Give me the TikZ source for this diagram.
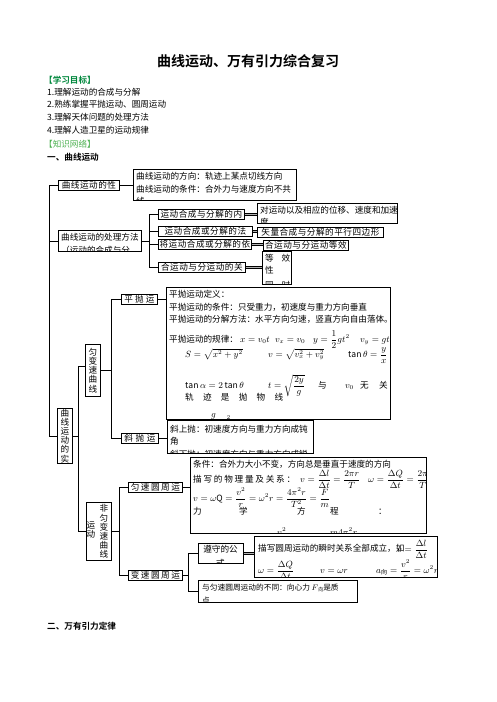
\documentclass[tikz,border=0pt]{standalone}
\usepackage{amsmath}
\usepackage{fontspec}
\setmainfont{Noto Sans CJK SC}[BoldFont={Noto Sans CJK SC Bold}]
\newfontfamily\spacedfont{Noto Sans CJK SC}[LetterSpace=6]
\usepackage{tikz}
\usetikzlibrary{calc}
\definecolor{goalgreen}{HTML}{00873C}
\definecolor{netgreen}{HTML}{4CB050}
\newcommand{\bx}{\fontsize{8.6}{12.5}\selectfont}
\newcommand{\vx}{\fontsize{8.6}{9.2}\selectfont}

\begin{document}
\begin{tikzpicture}[x=1pt,y=-1pt,font=\bx,
    box/.style={draw,line width=0.8pt,inner sep=0pt,anchor=north west},
    lbl/.style={box,font=\bx\spacedfont},
    txt/.style={anchor=base west,inner sep=0pt},
    link/.style={line width=0.8pt},
    dbl/.style={line width=0.6pt,double=gray!60,double distance=1.4pt}]
  \useasboundingbox (0,0) rectangle (496,702);

  % Heading and study goals.
  \node[font=\fontsize{14}{16}\selectfont\bfseries] (title) at (248,61) {曲线运动、万有引力综合复习};
  \node[txt,text=goalgreen,font=\bx\bfseries] (goal) at (44,83) {【学习目标】};
  \node[txt] (goal1) at (47,95) {1.理解运动的合成与分解};
  \node[txt] (goal2) at (47,107) {2.熟练掌握平抛运动、圆周运动};
  \node[txt] (goal3) at (47,120.5) {3.理解天体问题的处理方法};
  \node[txt] (goal4) at (47,133) {4.理解人造卫星的运动规律};
  \node[txt,text=netgreen] (net) at (44,147) {【知识网络】};
  \node[txt,font=\bx\bfseries] (sec1) at (47,160) {一、曲线运动};
  \node[txt,font=\bx\bfseries] (sec2) at (47,629) {二、万有引力定律};

  % First level of the map.
  \node[lbl,minimum width=61pt,minimum height=10pt] (prop) at (58,180) {曲线运动的性};
  \node[box,minimum width=83pt,minimum height=21pt] (proc) at (58,230) {};
  \begin{scope}
    \clip (proc.north west) rectangle (proc.south east);
    \node[txt] (proc-a) at (61,240) {曲线运动的处理方法};
    \node[txt] (proc-b) at (61,253) {（运动的合成与分};
  \end{scope}
  \node[box,minimum width=15pt,minimum height=55pt,font=\vx,align=center]
    (essence) at (57,408) {曲\\线\\运\\动\\的\\实};

  \node[box,minimum width=163pt,minimum height=31pt] (dir) at (133,169) {};
  \begin{scope}
    \clip (dir.north west) rectangle (dir.south east);
    \node[txt] (dir-a) at (136,179) {曲线运动的方向：轨迹上某点切线方向};
    \node[txt] (dir-b) at (136,192) {曲线运动的条件：合外力与速度方向不共};
    \node[txt] (dir-c) at (136,204.5) {线};
  \end{scope}

  % Composition and resolution of motion.
  \node[lbl,minimum width=86pt,minimum height=10pt] (content) at (158,209) {运动合成与分解的内};
  \node[lbl,minimum width=94pt,minimum height=10pt] (law) at (158,226) {运动合成或分解的法};
  \node[lbl,minimum width=93pt,minimum height=10pt] (basis) at (158,239) {将运动合成或分解的依};
  \node[lbl,minimum width=87pt,minimum height=10pt] (relation) at (158,262) {合运动与分运动的关};

  \node[box,minimum width=140pt,minimum height=20pt] (meaning) at (257,203) {};
  \begin{scope}
    \clip (meaning.north west) rectangle (meaning.south east);
    \node[txt] (meaning-a) at (260,213) {对运动以及相应的位移、速度和加速};
    \node[txt] (meaning-b) at (260,225.5) {度};
  \end{scope}
  \node[lbl,minimum width=126pt,minimum height=10pt] (rule) at (257,227) {矢量合成与分解的平行四边形};
  \node[lbl,minimum width=85pt,minimum height=10pt] (equiv) at (263,240) {合运动与分运动等效};
  \node[box,minimum width=29pt,minimum height=33pt] (trait) at (262,251) {};
  \begin{scope}
    \clip (trait.north west) rectangle (trait.south east);
    \node[txt] (trait-a) at (265,261) {\makebox[25pt][s]{等\hfill 效}};
    \node[txt] (trait-b) at (265,273) {性};
    \node[txt] (trait-c) at (265,288.5) {\makebox[25pt][s]{同\hfill 时}};
  \end{scope}

  % Uniformly accelerated curved motion.
  \node[box,minimum width=15pt,minimum height=52pt,font=\vx,align=center]
    (uvar) at (85,344) {匀\\变\\速\\曲\\线};
  \node[box,minimum width=36pt,minimum height=10pt] (flat) at (121,294) {\makebox[30pt][s]{平\hfill 抛\hfill 运}};
  \node[box,minimum width=37pt,minimum height=10pt] (oblique) at (121,432.5) {\makebox[31pt][s]{斜\hfill 抛\hfill 运}};

  \node[box,minimum width=224pt,minimum height=132pt] (flatinfo) at (166,287) {};
  \begin{scope}
    \clip (flatinfo.north west) rectangle (flatinfo.south east);
    \node[txt] (flat-a) at (169,297) {平抛运动定义：};
    \node[txt] (flat-b) at (169,310) {平抛运动的条件：只受重力，初速度与重力方向垂直};
    \node[txt] (flat-c) at (169,322) {平抛运动的分解方法：水平方向匀速，竖直方向自由落体。};
    \node[txt] (flat-d) at (169,342) {平抛运动的规律：};
    \node[txt] (flat-d1) at (240,342) {$x=v_0t$};
    \node[txt] (flat-d2) at (275,342) {$v_x=v_0$};
    \node[txt] (flat-d3) at (313,342) {$y=\dfrac{1}{2}gt^2$};
    \node[txt] (flat-d4) at (360,342) {$v_y=gt$};
    \node[txt] (flat-e1) at (185,357) {$S=\sqrt{x^2+y^2}$};
    \node[txt] (flat-e2) at (268,357) {$v=\sqrt{v_x^2+v_y^2}$};
    \node[txt] (flat-e3) at (348,357) {$\tan\theta=\dfrac{y}{x}$};
    \node[txt] (flat-f1) at (185,388) {$\tan\alpha=2\tan\theta$};
    \node[txt] (flat-f2) at (268,388) {$t=\sqrt{\dfrac{2y}{g}}$};
    \node[txt] (flat-f3) at (318,388) {与};
    \node[txt] (flat-f4) at (345,388) {$v_0$};
    \node[txt] (flat-f5) at (360,388) {无};
    \node[txt] (flat-f6) at (379,388) {关};
    \node[txt] (flat-g) at (185,400) {\makebox[98pt][s]{轨\hfill 迹\hfill 是\hfill 抛\hfill 物\hfill 线}};
    \node[txt] (flat-h) at (188,423) {$y=\dfrac{g}{2v_0^2}x^2$};
  \end{scope}

  \node[box,minimum width=146pt,minimum height=33pt] (obliqueinfo) at (167,420) {};
  \begin{scope}
    \clip (obliqueinfo.north west) rectangle (obliqueinfo.south east);
    \node[txt] (obl-a) at (170,432) {斜上抛：初速度方向与重力方向成钝};
    \node[txt] (obl-b) at (170,444.5) {角};
    \node[txt] (obl-c) at (170,457) {斜下抛：初速度方向与重力方向成锐};
  \end{scope}

  % Non-uniformly accelerated curved motion.
  \node[box,minimum width=25pt,minimum height=58pt] (nvar) at (86,502) {};
  \node[font=\vx,align=center,anchor=north,inner sep=0pt] (nvar-r) at (104,504.5) {非\\匀\\变\\速\\曲\\线};
  \node[font=\vx,align=center,anchor=north,inner sep=0pt] (nvar-l) at (91,521.5) {运\\动};
  \node[box,minimum width=54pt,minimum height=10pt] (ucirc) at (128,482) {\makebox[49pt][s]{匀\hfill 速\hfill 圆\hfill 周\hfill 运}};
  \node[box,minimum width=54pt,minimum height=10pt] (vcirc) at (128,570) {\makebox[49pt][s]{变\hfill 速\hfill 圆\hfill 周\hfill 运}};

  \node[box,minimum width=236pt,minimum height=76pt] (ucircinfo) at (190,457) {};
  \begin{scope}
    \clip (ucircinfo.north west) rectangle (ucircinfo.south east);
    \node[txt] (uc-a) at (193,467) {条件：合外力大小不变，方向总是垂直于速度的方向};
    \node[txt] (uc-b) at (193,482) {\makebox[102pt][s]{描\hfill 写\hfill 的\hfill 物\hfill 理\hfill 量\hfill 及\hfill 关\hfill 系\hfill ：}};
    \node[txt] (uc-b1) at (300,482) {$v=\dfrac{\Delta l}{\Delta t}=\dfrac{2\pi r}{T}$};
    \node[txt] (uc-b2) at (368,482) {$\omega=\dfrac{\Delta Q}{\Delta t}=\dfrac{2\pi}{T}$};
    \node[txt] (uc-c) at (193,501) {$v=\omega\mathrm{Q}=\dfrac{v^2}{r}=\omega^2r=\dfrac{4\pi^2r}{T^2}=\dfrac{F}{m}$};
    \foreach \ch/\xx [count=\i] in {力/193,学/239,方/297,程/330,：/378}
      \node[txt] (uc-d\i) at (\xx,514) {\ch};
    \node[txt] (uc-e1) at (277,535.5) {$v^2$};
    \node[txt] (uc-e2) at (330,535.5) {$m4\pi^2r$};
  \end{scope}

  \node[box,minimum width=45pt,minimum height=20pt] (formula) at (198,543) {};
  \begin{scope}
    \clip (formula.north west) rectangle (formula.south east);
    \node[inner sep=0pt,anchor=base] (formula-a) at (220.5,552) {遵守的公};
    \node[inner sep=0pt,anchor=base] (formula-b) at (220.5,566.5) {式};
  \end{scope}

  \node[box,minimum width=183pt,minimum height=41pt] (formulainfo) at (254,536) {};
  \begin{scope}
    \clip (formulainfo.north west) rectangle (formulainfo.south east);
    \node[txt] (fi-a) at (258,551) {描写圆周运动的瞬时关系全部成立，如};
    \node[txt] (fi-a1) at (397,552) {$v=\dfrac{\Delta l}{\Delta t}$};
    \node[txt] (fi-b1) at (258,573) {$\omega=\dfrac{\Delta Q}{\Delta t}$};
    \node[txt] (fi-b2) at (320,573) {$v=\omega r$};
    \node[txt] (fi-b3) at (376,573) {$a_{\text{向}}=\dfrac{v^2}{r}=\omega^2r$};
  \end{scope}

  \node[box,minimum width=159pt,minimum height=22pt] (diff) at (198,580) {};
  \begin{scope}
    \clip (diff.north west) rectangle (diff.south east);
    \node[txt,font=\fontsize{7.7}{12}\selectfont] (diff-a) at (202,590) {与匀速圆周运动的不同：向心力 $F$\raisebox{-1.5pt}{\tiny 向}是质};
    \node[txt,font=\fontsize{7.7}{12}\selectfont] (diff-b) at (202,603.5) {点};
  \end{scope}

  % Connectors of the tree.
  \coordinate (mainspine) at (49,0);
  \coordinate (procspine) at (149,0);
  \coordinate (essspine) at (78.5,0);
  \coordinate (uvarspine) at (111,0);
  \coordinate (nvarspine) at (119,0);
  \coordinate (vcircspine) at (188,0);

  \draw[link] (prop.west) -- (prop.west -| mainspine) |- (essence.west);
  \draw[link] (proc.west) -- (proc.west -| mainspine);
  \draw[link] (prop.east) -- (prop.east -| dir.west);

  \draw[link] (proc.east) -- (proc.east -| procspine);
  \draw[link] (content.west) -- (content.west -| procspine) |- (relation.west);
  \foreach \kid in {law,basis}
    \draw[link] (\kid.west) -- (\kid.west -| procspine);
  \foreach \from/\to in {content/meaning,law/rule,basis/equiv,relation/trait}
    \draw[dbl] (\from.east) -- (\from.east -| \to.west);

  \draw[link] (essence.east) -- (essence.east -| essspine);
  \draw[link] ([yshift=4pt]uvar.west) -- ([yshift=4pt]uvar.west -| essspine) |- (nvar.west);

  \draw[link] (uvar.east) -- (uvar.east -| uvarspine);
  \draw[link] (flat.west) -- (flat.west -| uvarspine) |- (oblique.west);
  \draw[link] (flat.east) -- (flat.east -| flatinfo.west);
  \draw[link] (oblique.east) -- (oblique.east -| obliqueinfo.west);

  \draw[link] (nvar.east) -- (nvar.east -| nvarspine);
  \draw[link] (ucirc.west) -- (ucirc.west -| nvarspine) |- (vcirc.west);
  \draw[link] (ucirc.east) -- (ucirc.east -| ucircinfo.west);

  \draw[link] (vcirc.east) -- (vcirc.east -| vcircspine);
  \draw[link] (formula.west) -- (formula.west -| vcircspine) |- (diff.west);
  \draw[dbl] (formula.east) -- (formula.east -| formulainfo.west);
\end{tikzpicture}
\end{document}
